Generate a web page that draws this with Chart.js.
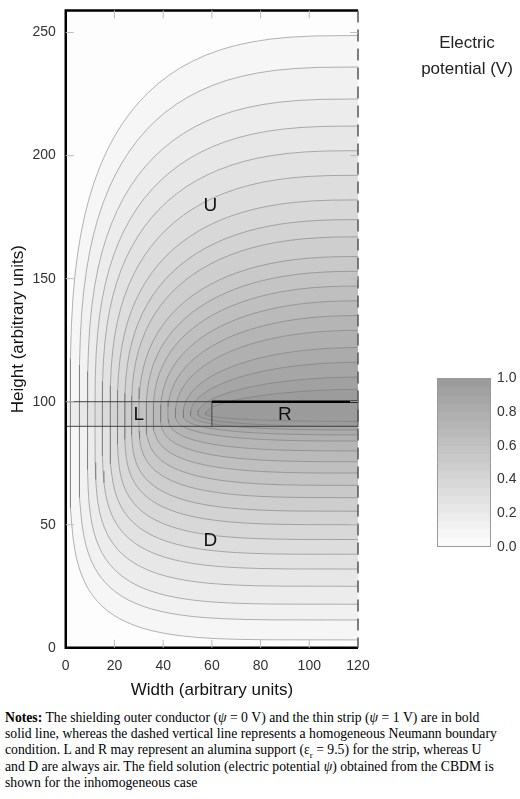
<!DOCTYPE html>
<html><head><meta charset="utf-8">
<script src="https://cdn.jsdelivr.net/npm/chart.js@4.4.1/dist/chart.umd.min.js"></script>
<style>
body{margin:0;background:#fff;width:520px;height:799px;position:relative;overflow:hidden;font-family:"Liberation Sans",Arial,sans-serif}
#wrap{position:absolute;left:0;top:0;width:520px;height:705px}
#cbt{position:absolute;left:417px;top:30px;width:100px;text-align:center;font-size:17px;color:#222;line-height:26px}
#cb{position:absolute;left:437px;top:378px;width:54px;height:169px;border:1px solid #999;box-sizing:border-box}
.cl{position:absolute;left:497px;font-size:14px;color:#333}
#notes{position:absolute;left:5px;top:710px;width:515px;white-space:nowrap;font-family:"Liberation Serif","Times New Roman",serif;font-size:13.7px;line-height:16.2px;color:#000}
</style></head><body>
<div id="wrap"><canvas id="c" width="520" height="705"></canvas></div>
<div id="cbt">Electric<br>potential (V)</div>
<div id="cb"></div>
<div id="cbl"></div>
<div id="notes"><b>Notes:</b> The shielding outer conductor (<i>ψ</i> = 0 V) and the thin strip (<i>ψ</i> = 1 V) are in bold<br>solid line, whereas the dashed vertical line represents a homogeneous Neumann boundary<br>condition. L and R may represent an alumina support (ε<sub style="font-size:9px;line-height:0">r</sub> = 9.5) for the strip, whereas U<br>and D are always air. The field solution (electric potential <i>ψ</i>) obtained from the CBDM is<br>shown for the inhomogeneous case</div>
<script>
// Contour levels (V) and read anchors
const levels = [0.05,0.10,0.15,0.20,0.25,0.30,0.35,0.40,0.45,0.50,0.55,0.60,0.65,0.70,0.75,0.80,0.85,0.90,0.95];
const leftX  = [1.8,5.5,8.9,12,15,18.2,21.2,24.2,27,30,33,35.9,38.9,41.9,45,48.2,51.2,54.2,57.4];
const upperY = [248.8,236,223,212,202,192,182,174,167,159,153,147,141,135,129,122,116,110,105];
const lowerY = [3.2,11.3,17.7,25,32,38,44,50,55.5,61,66,71,75.6,80,84,86.5,88.5,90,92];
const xTicks = [0,20,40,60,80,100,120];
const yTicks = [0,50,100,150,200,250];
const cbTicks = ['1.0','0.8','0.6','0.4','0.2','0.0'];
const stripX = [60,120], stripY = 100, bandY = [90,100];

function gray(v){const g=Math.round(253-100*v);return `rgb(${g},${g},${g})`;}

function contourPoints(i){
  const X=leftX[i], a=120-X, hu=upperY[i]-95, hd=95-lowerY[i];
  const f=i/(levels.length-1);
  const nu=3-1.1*f, nl=5-2.8*f;
  const pts=[];
  const N=28;
  for(let k=0;k<=N;k++){const t=(Math.PI/2)*(1-k/N);
    pts.push({x:120-a*Math.pow(Math.cos(t),2/nu),y:95+hu*Math.pow(Math.sin(t),2/nu)});}
  for(let k=1;k<=N;k++){const t=(Math.PI/2)*(k/N);
    pts.push({x:120-a*Math.pow(Math.cos(t),2/nl),y:95-hd*Math.pow(Math.sin(t),2/nl)});}
  return pts;
}
const datasets = levels.map((v,i)=>({data:contourPoints(i),showLine:true,tension:0,borderColor:'rgba(120,120,120,0.7)',borderWidth:0.8,pointRadius:0,fill:false,level:v}));

const cb=document.getElementById('cb');
let stops=[];for(let k=0;k<20;k++){const a=k*5,b=(k+1)*5;stops.push(`${gray(k/20+0.025)} ${a}% ${b}%`);}
cb.style.background=`linear-gradient(to top, ${stops.join(',')})`;
cbTicks.forEach((t,i)=>{const d=document.createElement('div');d.className='cl';d.style.top=(378+i*33.8-9)+'px';d.textContent=t;document.getElementById('cbl').appendChild(d);});

function pathOf(ctx,meta){
  const pts=meta.data;ctx.beginPath();ctx.moveTo(pts[0].x,pts[0].y);
  for(let i=1;i<pts.length;i++)ctx.lineTo(pts[i].x,pts[i].y);
  ctx.closePath();
}
const deco={id:'deco',
  beforeDatasetsDraw(ch){const {ctx,chartArea:a,scales:{x,y}}=ch;const sx=v=>x.getPixelForValue(v),sy=v=>y.getPixelForValue(v);
    ctx.save();ctx.beginPath();ctx.rect(a.left,a.top,a.right-a.left,a.bottom-a.top);ctx.clip();
    ctx.fillStyle=gray(0.0);ctx.fillRect(a.left,a.top,a.right-a.left,a.bottom-a.top);
    ch.data.datasets.forEach((d,i)=>{const m=ch.getDatasetMeta(i);ctx.fillStyle=gray(d.level+0.025);pathOf(ctx,m);ctx.fill();});
    ctx.fillStyle='rgb(155,155,155)';ctx.fillRect(sx(stripX[0]),sy(bandY[1]),sx(120)-sx(stripX[0]),sy(bandY[0])-sy(bandY[1]));
    ctx.fillStyle='rgba(110,110,110,0.08)';ctx.fillRect(sx(0),sy(bandY[1]),sx(stripX[0])-sx(0),sy(bandY[0])-sy(bandY[1]));
    ctx.restore();},
  afterDatasetsDraw(ch){const {ctx,chartArea:a,scales:{x,y}}=ch;const sx=v=>x.getPixelForValue(v),sy=v=>y.getPixelForValue(v);
    ctx.save();
    ctx.strokeStyle='#444';ctx.lineWidth=1;
    ctx.strokeRect(sx(0),sy(bandY[1]),sx(120)-sx(0),sy(bandY[0])-sy(bandY[1]));
    ctx.beginPath();ctx.moveTo(sx(stripX[0]),sy(bandY[1]));ctx.lineTo(sx(stripX[0]),sy(bandY[0]));ctx.stroke();
    ctx.strokeStyle='#000';ctx.lineWidth=2.5;
    ctx.beginPath();ctx.moveTo(sx(stripX[0]),sy(stripY));ctx.lineTo(sx(stripX[1]),sy(stripY));ctx.stroke();
    ctx.beginPath();ctx.moveTo(a.right,a.top);ctx.lineTo(a.left,a.top);ctx.lineTo(a.left,a.bottom);ctx.lineTo(a.right,a.bottom);ctx.stroke();
    ctx.strokeStyle='#555';ctx.lineWidth=1.5;ctx.setLineDash([12,7]);
    ctx.beginPath();ctx.moveTo(a.right,a.top);ctx.lineTo(a.right,a.bottom);ctx.stroke();ctx.setLineDash([]);
    ctx.strokeStyle='#bbb';ctx.lineWidth=1;
    xTicks.slice(1,-1).forEach(v=>{ctx.beginPath();ctx.moveTo(sx(v),a.bottom);ctx.lineTo(sx(v),a.bottom-8);ctx.moveTo(sx(v),a.top);ctx.lineTo(sx(v),a.top+8);ctx.stroke();});
    yTicks.slice(1).forEach(v=>{ctx.beginPath();ctx.moveTo(a.left,sy(v));ctx.lineTo(a.left+8,sy(v));ctx.moveTo(a.right,sy(v));ctx.lineTo(a.right-8,sy(v));ctx.stroke();});
    ctx.fillStyle='#111';ctx.font='19px "Liberation Sans", Arial';ctx.textAlign='center';ctx.textBaseline='middle';
    [['U',59.4,179.5],['D',59.4,43.5],['L',30,94.5],['R',90,94.5]].forEach(t=>ctx.fillText(t[0],sx(t[1]),sy(t[2])));
    ctx.restore();}
};
new Chart(document.getElementById('c'),{type:'scatter',data:{datasets},plugins:[deco],
  options:{responsive:false,animation:false,events:[],
    layout:{padding:{top:7,right:162,left:8,bottom:0}},
    plugins:{legend:{display:false},tooltip:{enabled:false}},
    scales:{
      x:{type:'linear',min:0,max:120,afterBuildTicks:s=>{s.ticks=xTicks.map(v=>({value:v}));},grid:{display:false},border:{display:false},
        ticks:{color:'#333',font:{size:14,family:'"Liberation Sans", Arial'},padding:2,maxRotation:0},
        title:{display:true,text:'Width (arbitrary units)',color:'#111',font:{size:17,family:'"Liberation Sans", Arial'},padding:{top:4}}},
      y:{type:'linear',min:0,max:259,afterBuildTicks:s=>{s.ticks=yTicks.map(v=>({value:v}));},grid:{display:false},border:{display:false},
        ticks:{color:'#333',font:{size:14,family:'"Liberation Sans", Arial'},padding:2},
        title:{display:true,text:'Height (arbitrary units)',color:'#111',font:{size:17,family:'"Liberation Sans", Arial'},padding:{top:0,bottom:2}}}
    }}});
</script></body></html>
